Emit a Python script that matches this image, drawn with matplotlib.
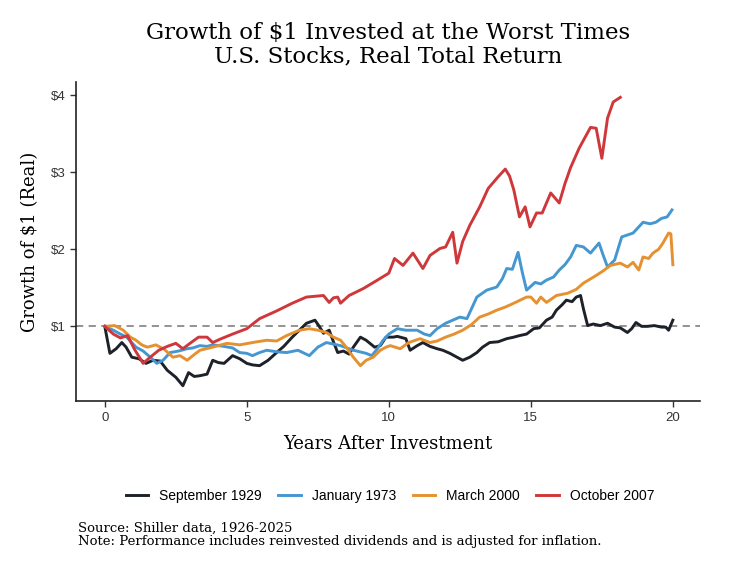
import numpy as np
import matplotlib.pyplot as plt

# values (years after investment, growth of $1)
sep1929_t = [0, 0.18, 0.4, 0.6, 0.75, 0.95, 1.2, 1.45, 1.7, 1.95, 2.2, 2.5, 2.75, 2.95, 3.15, 3.35, 3.6,
             3.8, 4.0, 4.2, 4.5, 4.75, 5.0, 5.2, 5.45, 5.75, 6.05, 6.3, 6.6, 6.85, 7.1, 7.4, 7.55, 7.7,
             7.9, 8.05, 8.2, 8.4, 8.6, 8.75, 9.0, 9.2, 9.5, 9.7, 9.9, 10.15, 10.3, 10.6, 10.75, 11.0,
             11.2, 11.45, 11.7, 11.9, 12.15, 12.4, 12.6, 12.85, 13.1, 13.3, 13.55, 13.85, 14.15, 14.4,
             14.6, 14.85, 15.1, 15.3, 15.55, 15.75, 15.9, 16.1, 16.25, 16.45, 16.6, 16.75, 16.85, 17.0,
             17.2, 17.45, 17.7, 17.95, 18.15, 18.4, 18.55, 18.7, 18.9, 19.1, 19.35, 19.6, 19.75, 19.85,
             20.0]
sep1929_v = [1.0, 0.65, 0.71, 0.79, 0.73, 0.6, 0.58, 0.52, 0.56, 0.55, 0.43, 0.34, 0.23, 0.4, 0.35, 0.36,
             0.38, 0.56, 0.53, 0.52, 0.62, 0.58, 0.52, 0.5, 0.49, 0.56, 0.66, 0.74, 0.86, 0.95, 1.04,
             1.08, 1.0, 0.91, 0.95, 0.8, 0.66, 0.68, 0.64, 0.73, 0.86, 0.82, 0.73, 0.75, 0.86, 0.86,
             0.87, 0.84, 0.69, 0.75, 0.79, 0.74, 0.71, 0.69, 0.65, 0.6, 0.56, 0.6, 0.66, 0.73, 0.79,
             0.8, 0.84, 0.86, 0.88, 0.9, 0.97, 0.98, 1.08, 1.12, 1.21, 1.28, 1.34, 1.32, 1.38, 1.4,
             1.23, 1.01, 1.03, 1.01, 1.04, 0.99, 0.98, 0.92, 0.97, 1.05, 1.0, 1.0, 1.01, 0.99, 0.99,
             0.95, 1.08]

jan1973_t = [0, 0.3, 0.55, 0.77, 1.1, 1.35, 1.6, 1.83, 2.05, 2.3, 2.6, 2.9, 3.1, 3.35, 3.6, 3.8, 4.2,
             4.5, 4.75, 5.0, 5.2, 5.45, 5.7, 6.05, 6.4, 6.8, 7.2, 7.5, 7.8, 8.05, 8.3, 8.75, 9.2, 9.4,
             9.6, 9.8, 10.0, 10.3, 10.6, 11.0, 11.25, 11.45, 11.7, 12.0, 12.25, 12.5, 12.75, 13.1,
             13.45, 13.8, 14.0, 14.15, 14.35, 14.55, 14.7, 14.85, 15.15, 15.35, 15.55, 15.8, 16.0,
             16.2, 16.4, 16.6, 16.85, 17.1, 17.4, 17.55, 17.7, 17.95, 18.2, 18.6, 18.95, 19.2, 19.4,
             19.6, 19.8, 19.97]
jan1973_v = [1.0, 0.95, 0.9, 0.86, 0.73, 0.68, 0.6, 0.52, 0.56, 0.66, 0.68, 0.71, 0.72, 0.75, 0.74,
             0.76, 0.74, 0.72, 0.66, 0.65, 0.62, 0.66, 0.69, 0.67, 0.66, 0.69, 0.62, 0.73, 0.79, 0.77,
             0.75, 0.69, 0.65, 0.62, 0.71, 0.82, 0.9, 0.97, 0.95, 0.95, 0.9, 0.88, 0.97, 1.04, 1.08,
             1.12, 1.1, 1.38, 1.47, 1.51, 1.62, 1.75, 1.74, 1.96, 1.7, 1.47, 1.57, 1.55, 1.6, 1.64,
             1.73, 1.8, 1.9, 2.05, 2.03, 1.95, 2.08, 1.92, 1.77, 1.86, 2.16, 2.21, 2.35, 2.33, 2.35,
             2.4, 2.42, 2.51]

mar2000_t = [0, 0.35, 0.65, 0.9, 1.1, 1.3, 1.5, 1.8, 2.1, 2.4, 2.65, 2.9, 3.1, 3.35, 3.8, 4.3, 4.75,
             5.2, 5.7, 6.05, 6.4, 6.85, 7.2, 7.5, 7.8, 8.05, 8.3, 8.5, 8.75, 9.0, 9.2, 9.45, 9.7,
             9.9, 10.05, 10.4, 10.7, 11.1, 11.45, 11.7, 12.0, 12.3, 12.6, 12.9, 13.2, 13.5, 13.8,
             14.1, 14.4, 14.85, 15.0, 15.2, 15.35, 15.55, 15.9, 16.3, 16.6, 16.85, 17.3, 17.55, 17.8,
             18.15, 18.4, 18.6, 18.8, 18.95, 19.15, 19.3, 19.5, 19.65, 19.85, 19.93, 20.0]
mar2000_v = [1.0, 1.01, 0.95, 0.86, 0.82, 0.76, 0.73, 0.76, 0.7, 0.6, 0.62, 0.56, 0.62, 0.69, 0.73,
             0.78, 0.76, 0.79, 0.82, 0.81, 0.88, 0.95, 0.97, 0.95, 0.92, 0.86, 0.82, 0.73, 0.6, 0.49,
             0.56, 0.6, 0.69, 0.73, 0.75, 0.71, 0.79, 0.84, 0.79, 0.81, 0.86, 0.9, 0.95, 1.02, 1.12,
             1.16, 1.21, 1.25, 1.3, 1.38, 1.38, 1.3, 1.38, 1.31, 1.4, 1.43, 1.48, 1.56, 1.66, 1.72,
             1.79, 1.82, 1.77, 1.83, 1.73, 1.9, 1.88, 1.95, 2.0, 2.08, 2.21, 2.2, 1.8]

oct2007_t = [0, 0.3, 0.55, 0.8, 1.05, 1.35, 1.6, 1.9, 2.2, 2.5, 2.75, 3.0, 3.3, 3.6, 3.8, 4.1, 4.5,
             5.0, 5.45, 6.05, 6.6, 7.1, 7.7, 7.9, 8.05, 8.2, 8.3, 8.6, 9.1, 9.6, 10.0, 10.2, 10.5,
             10.85, 11.2, 11.45, 11.8, 12.0, 12.25, 12.4, 12.6, 12.85, 13.2, 13.5, 13.85, 14.1,
             14.25, 14.4, 14.6, 14.8, 14.97, 15.2, 15.4, 15.7, 16.0, 16.2, 16.4, 16.7, 17.1, 17.3,
             17.5, 17.7, 17.9, 18.15]
oct2007_v = [1.0, 0.9, 0.85, 0.88, 0.7, 0.52, 0.6, 0.69, 0.74, 0.78, 0.71, 0.78, 0.86, 0.86, 0.79,
             0.84, 0.9, 0.97, 1.1, 1.2, 1.3, 1.38, 1.4, 1.31, 1.37, 1.38, 1.3, 1.4, 1.49, 1.6, 1.69,
             1.88, 1.79, 1.95, 1.75, 1.92, 2.01, 2.03, 2.22, 1.82, 2.1, 2.31, 2.55, 2.79, 2.94, 3.04,
             2.95, 2.77, 2.42, 2.55, 2.29, 2.47, 2.47, 2.73, 2.6, 2.85, 3.06, 3.31, 3.58, 3.57, 3.18,
             3.7, 3.91, 3.97]

names = ["September 1929", "January 1973", "March 2000", "October 2007"]
colors = ["#1d2129", "#4597d2", "#e6912f", "#cf383b"]

plt.rcParams['font.family'] = 'DejaVu Serif'

fig = plt.figure(figsize=(7.29, 5.69), dpi=100)
ax = fig.add_axes([0.104, 0.295, 0.856, 0.561])

series = [(sep1929_t, sep1929_v), (jan1973_t, jan1973_v),
          (mar2000_t, mar2000_v), (oct2007_t, oct2007_v)]
ax.axhline(1, color="#8a8a8a", ls=(0, (4, 3)), lw=1.3, zorder=1)
for (t, v), name, c in zip(series, names, colors):
    ax.plot(t, v, color=c, lw=2.1, label=name, solid_joinstyle="round")

ax.set_xlim(-1.02, 20.95)
ax.set_ylim(0.03, 4.17)
ax.set_xticks([0, 5, 10, 15, 20])
ax.set_yticks([1, 2, 3, 4])
ax.set_yticklabels(["\\$1", "\\$2", "\\$3", "\\$4"])
for lab in ax.get_xticklabels() + ax.get_yticklabels():
    lab.set_family("Liberation Sans")
ax.tick_params(labelsize=9.5, colors="#333333", length=4, width=1)
for s in ["top", "right"]:
    ax.spines[s].set_visible(False)
for s in ["left", "bottom"]:
    ax.spines[s].set_linewidth(1.2)
    ax.spines[s].set_color("#222222")

ax.set_xlabel("Years After Investment", fontsize=13, labelpad=8)
ax.set_ylabel("Growth of \\$1 (Real)", fontsize=13, labelpad=8)
ax.set_title("Growth of \\$1 Invested at the Worst Times\nU.S. Stocks, Real Total Return",
             fontsize=16.5, linespacing=1.1, pad=14)

fig.legend(loc="center", bbox_to_anchor=(0.535, 0.128), ncol=4, frameon=False,
           prop={"family": "Liberation Sans", "size": 10}, handlelength=1.6,
           columnspacing=1.2, handletextpad=0.8)

fig.text(0.107, 0.06, "Source: Shiller data, 1926-2025\n"
         "Note: Performance includes reinvested dividends and is adjusted for inflation.",
         fontsize=9.5, va="center", ha="left", linespacing=1.05)

fig.savefig("out.png", dpi=100)
